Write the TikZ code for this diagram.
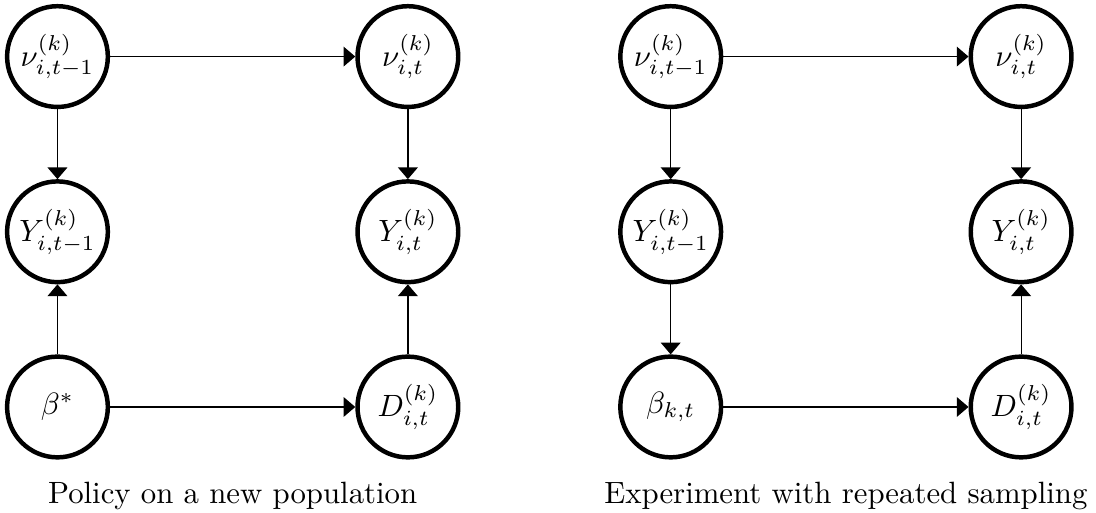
\documentclass[tikz,border=0pt]{standalone}
\usepackage{amsmath,amssymb}
\usetikzlibrary{arrows.meta}

\begin{document}
\begin{tikzpicture}[
    var/.style={circle, draw, line width=1.45pt, minimum size=1.15cm, inner sep=0pt},
    arr/.style={-{Triangle[length=3.8pt,width=6.4pt]}, line width=0.4pt}]
  \useasboundingbox (-0.656,-1.199) rectangle (11.855,4.646);
  \foreach \s/\b/\src/\dst/\cap/\xoff in {L/{$\beta^*$}/b/y0/{Policy on a new population}/0,
      R/{$\beta_{k,t}$}/y0/b/{Experiment with repeated sampling}/7}{
    \begin{scope}[xshift=\xoff cm]
      \node[var] (\s-nu0) at (0,4) {$\nu_{i,t-1}^{(k)}$};
      \node[var] (\s-nu1) at (4,4) {$\nu_{i,t}^{(k)}$};
      \node[var] (\s-y0) at (0,2) {$Y_{i,t-1}^{(k)}$};
      \node[var] (\s-y1) at (4,2) {$Y_{i,t}^{(k)}$};
      \node[var] (\s-b) at (0,0) {\b};
      \node[var] (\s-d) at (4,0) {$D_{i,t}^{(k)}$};
      \node[anchor=base] (\s-cap) at (2,-1.1) {\cap};
      \draw[arr] (\s-nu0) -- (\s-nu1);
      \draw[arr] (\s-nu0) -- (\s-y0);
      \draw[arr] (\s-nu1) -- (\s-y1);
      \draw[arr] (\s-\src) -- (\s-\dst);
      \draw[arr] (\s-b) -- (\s-d);
      \draw[arr] (\s-d) -- (\s-y1);
    \end{scope}
  }
\end{tikzpicture}
\end{document}
